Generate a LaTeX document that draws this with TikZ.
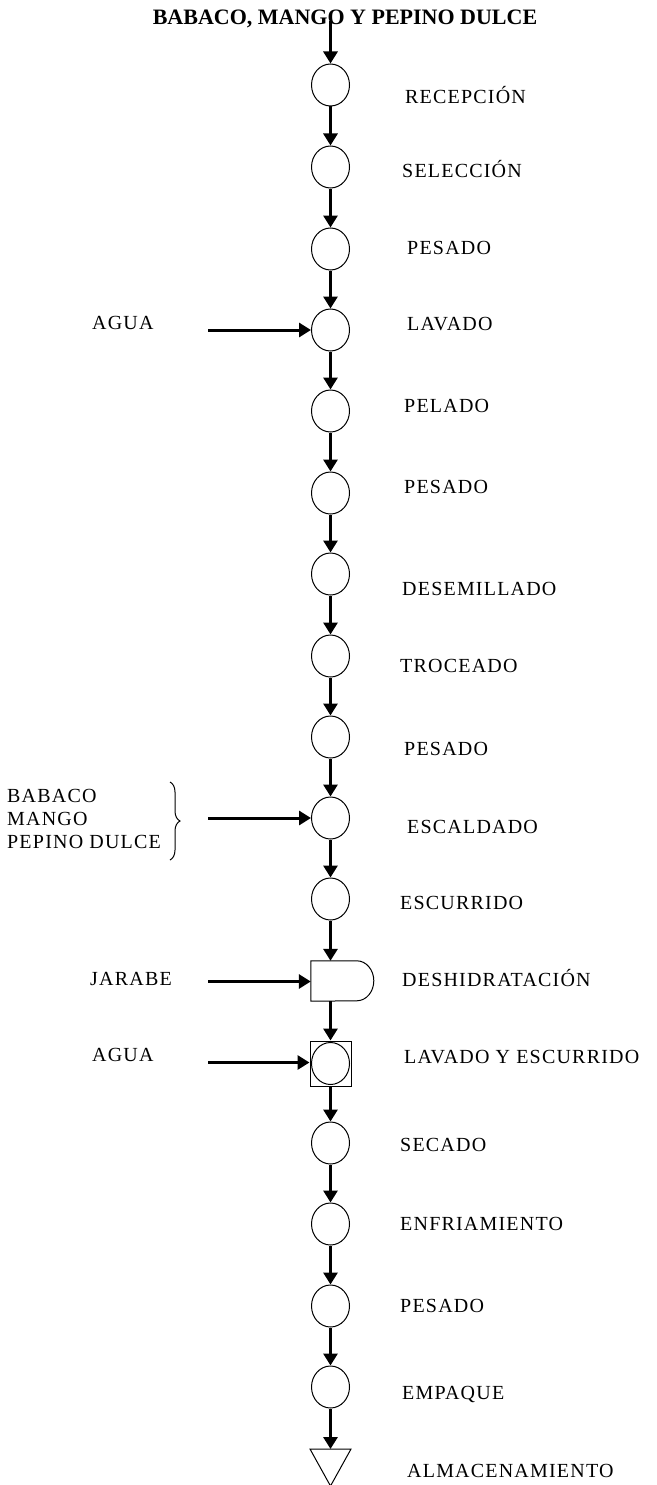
\documentclass[tikz,border=0pt]{standalone}
\usepackage{fontspec}
\setmainfont{Liberation Serif}
\newfontfamily\labfont[LetterSpace=6]{Liberation Serif}
\usetikzlibrary{arrows.meta,shapes.geometric,decorations.pathreplacing}
\newcommand\lbl[4]{\node[lab] (#1) at (#2,{-(#3+6.6)}) {#4};}
\begin{document}
\begin{tikzpicture}[x=1pt,y=1pt,
 op/.style={draw, ellipse, minimum width=38pt, minimum height=42pt, inner sep=0pt, line width=1pt},
 flow/.style={line width=3pt, -{Triangle[width=14pt,length=12pt]}},
 lab/.style={anchor=base west, font=\labfont\fontsize{20}{24}\selectfont, inner sep=0pt},
 thinline/.style={line width=1pt}
]
\useasboundingbox (0,0) rectangle (656,-1485);
\fill[white] (0,0) rectangle (656,-1485);

% title
\node[anchor=base, inner sep=0pt, font=\bfseries\fontsize{22}{26}\selectfont] (title) at (345,-25) {BABACO, MANGO Y PEPINO DULCE};
\coordinate (start) at (330.5,-21);

% operations
\node[op] (c1) at (330.5,-85) {};
\node[op] (c2) at (330.5,-167) {};
\node[op] (c3) at (330.5,-249) {};
\node[op] (c4) at (330.5,-330) {};
\node[op] (c5) at (330.5,-411) {};
\node[op] (c6) at (330.5,-493) {};
\node[op] (c7) at (330.5,-574) {};
\node[op] (c8) at (330.5,-656) {};
\node[op] (c9) at (330.5,-737) {};
\node[op] (c10) at (330.5,-818) {};
\node[op] (c11) at (330.5,-899) {};
% deshidratacion (D shape)
\node[inner sep=0pt, minimum width=63pt, minimum height=40pt] (d) at (342.5,-981) {};
\draw[thinline] (d.north west) -- ++(46,0) arc[start angle=90,end angle=-90,x radius=17,y radius=20] -- (d.south west) -- cycle;
% lavado y escurrido (box + circle)
\node[draw, thinline, minimum width=41pt, minimum height=45pt, inner sep=0pt] (l) at (330.5,-1063.5) {};
\node[op] (lc) at (330.5,-1063.5) {};
\node[op] (c13) at (330.5,-1143) {};
\node[op] (c14) at (330.5,-1224) {};
\node[op] (c15) at (330.5,-1306) {};
\node[op] (c16) at (330.5,-1387) {};
% almacenamiento triangle
\coordinate (tri) at (330.5,-1449);
\draw[thinline] (tri) ++(-20.5,0) -- ++(41,0) -- (330.5,-1486) -- cycle;

% main flow
\draw[flow] (start) -- (c1);
\draw[flow] (c1) -- (c2);
\draw[flow] (c2) -- (c3);
\draw[flow] (c3) -- (c4);
\draw[flow] (c4) -- (c5);
\draw[flow] (c5) -- (c6);
\draw[flow] (c6) -- (c7);
\draw[flow] (c7) -- (c8);
\draw[flow] (c8) -- (c9);
\draw[flow] (c9) -- (c10);
\draw[flow] (c10) -- (c11);
\draw[flow] (c11) -- (c11 |- d.north);
\draw[flow] (d.south -| l) -- (l);
\draw[flow] (l) -- (c13);
\draw[flow] (c13) -- (c14);
\draw[flow] (c14) -- (c15);
\draw[flow] (c15) -- (c16);
\draw[flow] (c16) -- (tri);

% step labels
\lbl{t1}{405}{97}{RECEPCIÓN}
\lbl{t2}{402}{171}{SELECCIÓN}
\lbl{t3}{407}{248}{PESADO}
\lbl{t4}{407}{324}{LAVADO}
\lbl{t5}{404}{406}{PELADO}
\lbl{t6}{404}{487}{PESADO}
\lbl{t7}{402}{589}{DESEMILLADO}
\lbl{t8}{400}{666}{TROCEADO}
\lbl{t9}{404}{749}{PESADO}
\lbl{t10}{407}{827}{ESCALDADO}
\lbl{t11}{400}{903}{ESCURRIDO}
\lbl{t12}{402}{980}{DESHIDRATACIÓN}
\lbl{t13}{404}{1057}{LAVADO Y ESCURRIDO}
\lbl{t14}{400}{1145}{SECADO}
\lbl{t15}{400}{1224}{ENFRIAMIENTO}
\lbl{t16}{400}{1306}{PESADO}
\lbl{t17}{402}{1393}{EMPAQUE}
\lbl{t18}{407}{1471}{ALMACENAMIENTO}

% inputs
\lbl{agua1}{92}{323}{AGUA}
\coordinate (a1) at (208,-330);
\draw[flow] (a1) -- (c4);

\lbl{b1}{7}{796}{BABACO}
\lbl{b2}{7}{819}{MANGO}
\lbl{b3}{7}{842}{PEPINO DULCE}
\draw[thinline, decorate, decoration={brace, amplitude=10pt}] (170,-782) -- (170,-860);
\coordinate (a2) at (208,-818);
\draw[flow] (a2) -- (c10);

\lbl{jarabe}{90}{979}{JARABE}
\coordinate (a3) at (208,-981.5);
\draw[flow] (a3) -- (d.west |- a3);

\lbl{agua2}{92}{1055}{AGUA}
\coordinate (a4) at (208,-1062.5);
\draw[flow] (a4) -- (l.west |- a4);
\end{tikzpicture}
\end{document}
